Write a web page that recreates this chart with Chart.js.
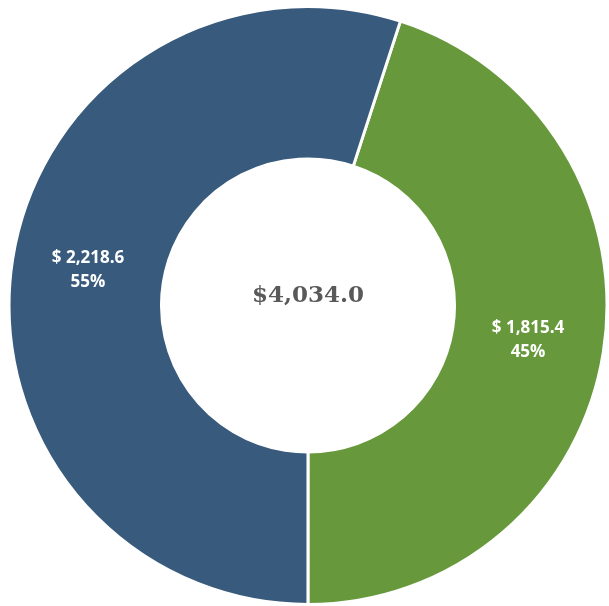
<!DOCTYPE html>
<html>
<head>
<meta charset="utf-8">
<script src="https://cdn.jsdelivr.net/npm/chart.js@4/dist/chart.umd.min.js"></script>
<style>
  html, body { margin: 0; padding: 0; background: #ffffff; }
  #wrap { width: 609px; height: 606px; position: relative; }
</style>
</head>
<body>
<div id="wrap"><canvas id="c" width="609" height="606"></canvas></div>
<script>
const categories = ["Green segment", "Blue segment"];
const values = [1815.4, 2218.6];
const percents = ["45%", "55%"];
const totalLabel = "$4,034.0";
const colors = ["#67983b", "#385a7c"];

function fmt(v) {
  return "$ " + v.toLocaleString("en-US", { minimumFractionDigits: 1, maximumFractionDigits: 1 });
}

const labelPlugin = {
  id: "labelPlugin",
  afterDatasetsDraw(chart) {
    const ctx = chart.ctx;
    const meta = chart.getDatasetMeta(0);
    ctx.save();
    ctx.textAlign = "center";
    ctx.textBaseline = "middle";
    ctx.fillStyle = "#ffffff";
    ctx.font = "bold 17px 'Open Sans'";
    meta.data.forEach((arc, i) => {
      const p = arc.tooltipPosition();
      ctx.fillText(fmt(values[i]), p.x, p.y - 12);
      ctx.fillText(percents[i], p.x, p.y + 12);
    });
    const a = meta.data[0];
    ctx.fillStyle = "#595959";
    ctx.font = "bold 23px 'DejaVu Serif'";
    ctx.fillText(totalLabel, a.x, a.y - 9);
    ctx.restore();
  }
};

new Chart(document.getElementById("c"), {
  type: "doughnut",
  data: {
    labels: categories,
    datasets: [{
      data: values,
      backgroundColor: colors,
      borderColor: "#ffffff",
      borderWidth: 3,
      hoverOffset: 0
    }]
  },
  options: {
    responsive: false,
    animation: false,
    rotation: 18,
    cutout: "49%",
    layout: { padding: { left: 7, top: 5, right: -3, bottom: -2 } },
    plugins: {
      legend: { display: false },
      tooltip: { enabled: false }
    }
  },
  plugins: [labelPlugin]
});
</script>
</body>
</html>
